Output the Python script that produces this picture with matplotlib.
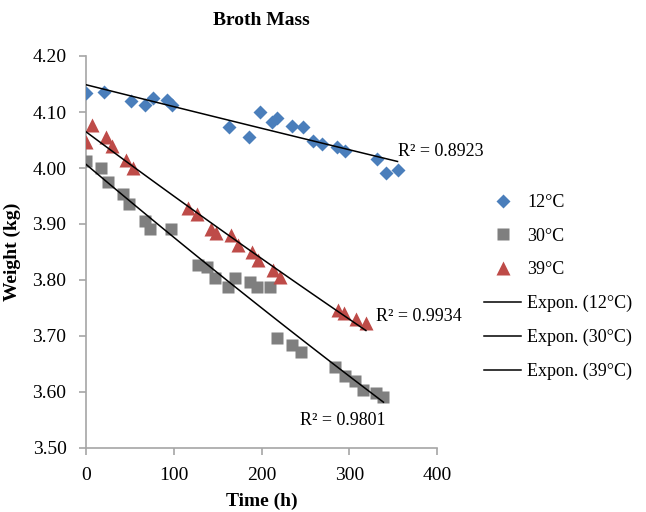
import numpy as np
import matplotlib
matplotlib.use("Agg")
import matplotlib.pyplot as plt
from matplotlib.lines import Line2D

plt.rcParams['font.family'] = ['Liberation Serif', 'DejaVu Serif']

# data (time in h, weight in kg)
t12 = [0, 20, 51, 67, 76, 92, 98, 163, 186, 198, 212, 218, 235, 247, 259, 269, 286, 295, 332, 342, 355]
w12 = [4.134, 4.136, 4.120, 4.112, 4.125, 4.122, 4.113, 4.073, 4.055, 4.100, 4.082, 4.089,
       4.075, 4.073, 4.048, 4.043, 4.038, 4.030, 4.016, 3.991, 3.996]

t30 = [0, 17, 25, 42, 49, 67, 73, 97, 128, 138, 147, 162, 170, 187, 195, 210,
       218, 235, 245, 284, 295, 307, 316, 330, 339]
w30 = [4.012, 4.000, 3.975, 3.953, 3.935, 3.905, 3.891, 3.891, 3.827, 3.824, 3.803, 3.787,
       3.803, 3.796, 3.787, 3.787, 3.696, 3.684, 3.672, 3.645, 3.629, 3.620, 3.604, 3.598, 3.591]

t39 = [0, 7, 23, 30, 46, 54, 116, 126, 142, 148, 165, 173, 189, 196, 213, 221, 287, 294, 308, 319]
w39 = [4.047, 4.077, 4.055, 4.039, 4.014, 4.000, 3.928, 3.918, 3.891, 3.884, 3.880, 3.862,
       3.850, 3.836, 3.818, 3.805, 3.746, 3.741, 3.730, 3.723]

labels = ['12°C', '30°C', '39°C']
r2_text = ['R² = 0.8923', 'R² = 0.9801', 'R² = 0.9934']

c12 = '#4a7ebb'
c30 = '#7f7f7f'
c39 = '#be4b48'

fig = plt.figure(figsize=(6.46, 5.12), dpi=100)
ax = fig.add_axes([86/646, 1-448/512, (437-86)/646, (448-56)/512])

ax.plot(t12, w12, 'D', color=c12, ms=7, mec='none', zorder=3)
ax.plot(t30, w30, 's', color=c30, ms=9, mec='none', zorder=3)
ax.plot(t39, w39, '^', color=c39, ms=10, mec='none', zorder=3)

# exponential trend lines (log-linear least squares like Excel)
for t, w in [(t12, w12), (t30, w30), (t39, w39)]:
    t = np.array(t, float)
    b, lna = np.polyfit(t, np.log(w), 1)
    tt = np.linspace(t.min(), t.max(), 50)
    ax.plot(tt, np.exp(lna) * np.exp(b * tt), color='black', lw=1.1, zorder=4)

ax.text(356, 4.029, r2_text[0], fontsize=13, va='center', ha='left')
ax.text(244, 3.55, r2_text[1], fontsize=13, va='center', ha='left')
ax.text(330, 3.734, r2_text[2], fontsize=13, va='center', ha='left')

ax.set_xlim(0, 400)
ax.set_ylim(3.5, 4.2)
ax.set_xticks([0, 100, 200, 300, 400])
ax.set_yticks(np.arange(3.5, 4.21, 0.1))
ax.yaxis.set_major_formatter(plt.FormatStrFormatter('%.2f'))

for s in ['top', 'right']:
    ax.spines[s].set_visible(False)
for s in ['left', 'bottom']:
    ax.spines[s].set_color('#a6a6a6')
    ax.spines[s].set_linewidth(1.2)
ax.tick_params(direction='out', length=5, width=1.2, color='#a6a6a6', labelsize=14)
ax.tick_params(axis='y', pad=9)
ax.tick_params(axis='x', pad=9)

ax.set_title('Broth Mass', fontsize=14, fontweight='bold', pad=22)
ax.set_xlabel('Time (h)', fontsize=14, fontweight='bold', labelpad=6)
ax.set_ylabel('Weight (kg)', fontsize=14, fontweight='bold', labelpad=8)

handles = [
    Line2D([], [], ls='none', marker='D', color=c12, ms=7, mec='none'),
    Line2D([], [], ls='none', marker='s', color=c30, ms=9, mec='none'),
    Line2D([], [], ls='none', marker='^', color=c39, ms=10, mec='none'),
    Line2D([], [], color='black', lw=1.1),
    Line2D([], [], color='black', lw=1.1),
    Line2D([], [], color='black', lw=1.1),
]
leg_labels = labels + ['Expon. (' + l + ')' for l in labels]
fig.legend(handles, leg_labels, loc='upper left', bbox_to_anchor=(484/646, 1-194/512),
           frameon=False, fontsize=13, handlelength=2.05, handletextpad=0.35,
           labelspacing=0.92, borderpad=0, borderaxespad=0)

fig.savefig('out.png', dpi=100)
